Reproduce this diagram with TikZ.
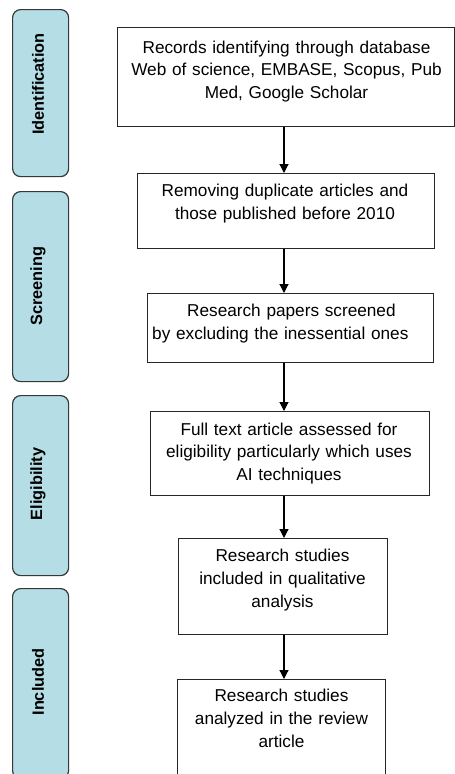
\documentclass[tikz,border=0pt]{standalone}
\usepackage{fontspec}
\setmainfont{Liberation Sans}
\usetikzlibrary{arrows.meta}
\definecolor{lblue}{RGB}{180,221,229}
\definecolor{edgegray}{RGB}{55,55,55}
\begin{document}
\begin{tikzpicture}[x=1pt,y=-1pt,
  phase/.style={draw=edgegray, line width=1.2pt, fill=lblue, rounded corners=8pt, inner sep=0pt, anchor=north west},
  lab/.style={font=\fontsize{16.3}{19}\selectfont\bfseries, rotate=90, inner sep=0pt},
  box/.style={draw=black!85, line width=1.2pt, inner sep=0pt, anchor=north west},
  txt/.style={font=\fontsize{17.2}{22.7}\selectfont, align=center, inner sep=0pt, anchor=base},
  arr/.style={draw=black, line width=1.2pt, -{Triangle[width=9pt,length=9pt]}}
]
\clip (0,0) rectangle (455,774);
\fill[white] (0,0) rectangle (455,774);
% phase labels
\node[phase, minimum width=56pt, minimum height=167pt] (p1) at (12,9) {};
\node[lab] (l1) at (38,84) {Identification};
\node[phase, minimum width=56pt, minimum height=190pt] (p2) at (12,191) {};
\node[lab] (l2) at (38,286) {Screening};
\node[phase, minimum width=56pt, minimum height=180pt] (p3) at (12,395) {};
\node[lab] (l3) at (38,484) {Eligibility};
\node[phase, minimum width=56pt, minimum height=190pt] (p4) at (12,588) {};
\node[lab] (l4) at (38,682) {Included};
% boxes
\node[box, minimum width=337pt, minimum height=99pt] (b1) at (117,27) {};
\node[txt, text width=334pt] (t1) at (286.5,53) {Records identifying through database\\Web of science, EMBASE, Scopus, Pub\\Med, Google Scholar};
\node[box, minimum width=297pt, minimum height=75pt] (b2) at (137,173) {};
\node[txt, text width=292pt] (t2) at (285,196.7) {Removing duplicate articles and\\those published before 2010};
\node[box, minimum width=286pt, minimum height=69pt] (b3) at (147,293) {};
\node[txt, text width=280pt, align=left, anchor=base west] (t3) at (152,316.7) {\hspace*{35pt}Research papers screened\\by excluding the inessential ones};
\node[box, minimum width=279pt, minimum height=84pt] (b4) at (150,411) {};
\node[txt, text width=276pt] (t4) at (289,435) {Full text article assessed for\\eligibility particularly which uses\\AI techniques};
\node[box, minimum width=209pt, minimum height=96pt] (b5) at (178,538) {};
\node[txt, text width=205pt] (t5) at (282.5,561.7) {Research studies\\included in qualitative\\analysis};
\node[box, minimum width=208pt, minimum height=110pt] (b6) at (177,679) {};
\node[txt, text width=205pt] (t6) at (281.5,701.7) {Research studies\\analyzed in the review\\article};
% arrows
\coordinate (ax) at (284,0);
\draw[arr] (b1.south -| ax) -- (b2.north -| ax);
\draw[arr] (b2.south -| ax) -- (b3.north -| ax);
\draw[arr] (b3.south -| ax) -- (b4.north -| ax);
\draw[arr] (b4.south -| ax) -- (b5.north -| ax);
\draw[arr] (b5.south -| ax) -- (b6.north -| ax);
\end{tikzpicture}
\end{document}
